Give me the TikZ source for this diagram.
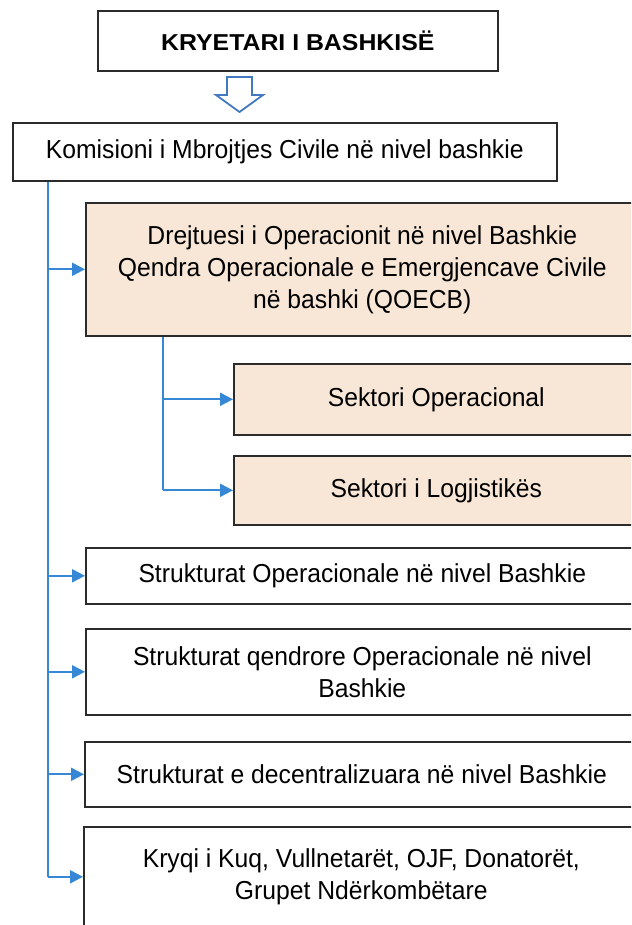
\documentclass[tikz,border=0pt]{standalone}
\usepackage{fontspec}
\setmainfont{Liberation Sans}
\newfontfamily\boxfont[FakeStretch=0.95]{Liberation Sans}
\newfontfamily\headfont[FakeStretch=1.08]{Liberation Sans}
\usetikzlibrary{arrows.meta}
\definecolor{conn}{HTML}{3688D6}
\definecolor{beige}{HTML}{F8E6D6}
\definecolor{edge}{HTML}{2B2B2B}
\definecolor{hollow}{HTML}{4279C0}
\begin{document}
\begin{tikzpicture}[x=1pt,y=-1pt,
  box/.style={draw=edge,line width=1.6pt,anchor=north west,inner sep=0pt,align=center,
    font=\boxfont\fontsize{26}{32}\selectfont},
  shaded/.style={box,fill=beige},
  trunk/.style={draw=conn,line width=2pt},
  link/.style={draw=conn,line width=2pt,-{Triangle[length=13pt,width=13pt]}},
  ]
\useasboundingbox (0,0) rectangle (631,925);
\clip (0,0) rectangle (631,925);
\fill[white] (0,0) rectangle (631,925);

\node[box,minimum width=400,minimum height=60,font=\headfont\bfseries\fontsize{23}{26}\selectfont] (kryetari) at (97,10) {KRYETARI I BASHKISË};
\node[box,minimum width=544,minimum height=58] (komisioni) at (12,122) {Komisioni i Mbrojtjes Civile në nivel bashkie};
\node[shaded,minimum width=553,minimum height=133] (drejtuesi) at (85,202) {Drejtuesi i Operacionit në nivel Bashkie\\Qendra Operacionale e Emergjencave Civile\\në bashki (QOECB)};
\node[shaded,minimum width=405,minimum height=71] (sekop) at (233,363) {Sektori Operacional};
\node[shaded,minimum width=405,minimum height=69] (seklog) at (233,455) {Sektori i Logjistikës};
\node[box,minimum width=553,minimum height=56] (strop) at (85,547) {Strukturat Operacionale në nivel Bashkie};
\node[box,minimum width=553,minimum height=86] (strqe) at (85,628) {Strukturat qendrore Operacionale në nivel\\Bashkie};
\node[box,minimum width=554,minimum height=65] (strdec) at (84,741) {Strukturat e decentralizuara në nivel Bashkie};
\node[box,minimum width=555,minimum height=100] (kryqi) at (83,826) {Kryqi i Kuq, Vullnetarët, OJF, Donatorët,\\Grupet Ndërkombëtare};

% hollow arrow between the two top boxes
\draw[draw=hollow,fill=white,line width=1.8pt,line join=miter]
  (227,77) -- (252,77) -- (252,95) -- (263,95) -- (239.5,112) -- (216,95) -- (227,95) -- cycle;

% main trunk
\coordinate (t0) at (48,0);
\draw[trunk] (komisioni.south -| t0) -- (kryqi.west -| t0);
\foreach \n in {drejtuesi,strop,strqe,strdec,kryqi}
  \draw[link] (\n.west -| t0) -- (\n.west);

% inner trunk
\coordinate (t1) at (163,0);
\draw[trunk] (drejtuesi.south -| t1) -- (seklog.west -| t1);
\foreach \n in {sekop,seklog}
  \draw[link] (\n.west -| t1) -- (\n.west);
\end{tikzpicture}
\end{document}
